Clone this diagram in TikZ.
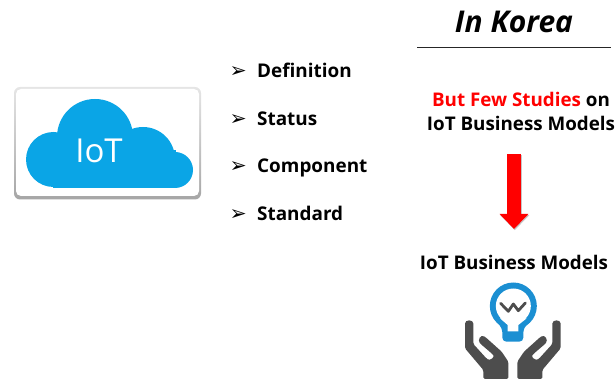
\documentclass[tikz,border=0pt]{standalone}
\usepackage{fontspec}
\setmainfont{Open Sans}
\newfontfamily\dingfont{DejaVu Sans}
\usetikzlibrary{positioning,arrows.meta}
\definecolor{cloudblue}{HTML}{0AA5E6}
\definecolor{bulbblue}{HTML}{1B8FD2}
\definecolor{handgray}{HTML}{4D4D4D}
\tikzset{
  itemtext/.style={inner sep=0pt,font=\fontsize{18.9}{23}\selectfont\bfseries},
  bulletmark/.style={inner sep=0pt,font=\fontsize{20.5}{24}\dingfont},
  bigtext/.style={inner sep=0pt,align=center,font=\fontsize{18.8}{24}\selectfont\bfseries},
  hand/.pic={
    \fill[handgray,rounded corners=1.5pt] (75,165) .. controls (75,148) and (100,148) .. (100,165)
      -- (100,222) -- (140,266) .. controls (150,272) and (165,262) .. (157,252) -- (122,222)
      .. controls (112,210) and (122,192) .. (137,202) -- (185,245) -- (205,275) -- (205,327)
      -- (130,327) -- (130,300) -- (75,235) -- cycle;
  }
}
\begin{document}
\begin{tikzpicture}[x=1pt,y=-1pt]
  \useasboundingbox (0,0) rectangle (616,379);

  % card with the cloud
  \shade[top color=gray!20,bottom color=gray!70,rounded corners=6pt] (14,87) rectangle (201,199.5);
  \node[minimum width=183pt,minimum height=107pt,rounded corners=5pt,fill=white,inner sep=0pt] (card) at (107.5,142.5) {};
  \begin{scope}
    \clip (14,87) rectangle (201,187.5);
    \foreach \cx/\cy/\rad in {53.5/159.5/27.5, 95/137/38, 143/159/32, 175/170/18}
      \fill[cloudblue] (\cx,\cy) circle (\rad pt);
    \fill[cloudblue] (53,150) rectangle (176,188);
  \end{scope}
  \node[inner sep=0pt,text=white,font=\fontsize{33}{40}\selectfont] (iot) at (99,151) {IoT};

  % list
  \node[itemtext,anchor=base west] (definition) at (257,78) {Definition};
  \node[itemtext,anchor=base west] (status) at (257,126) {Status};
  \node[itemtext,anchor=base west] (component) at (257,173) {Component};
  \node[itemtext,anchor=base west] (standard) at (257,221) {Standard};
  \node[bulletmark,base left=10pt of definition.base west] (bulletA) {➢};
  \node[bulletmark,base left=10pt of status.base west] (bulletB) {➢};
  \node[bulletmark,base left=10pt of component.base west] (bulletC) {➢};
  \node[bulletmark,base left=10pt of standard.base west] (bulletD) {➢};

  % right column
  \node[inner sep=0pt,font=\fontsize{30}{34}\selectfont\bfseries\itshape,anchor=base] (korea) at (514,33) {In Korea};
  \coordinate (ruleA) at (417,48);
  \coordinate (ruleB) at (611,48);
  \draw[line width=1pt,black!85] (ruleA) -- (ruleB);
  \node[bigtext,anchor=base] (studies) at (521,131) {\textcolor{red}{But Few Studies} on\\IoT Business Models};
  \node[bigtext,anchor=base] (models) at (514,270) {IoT Business Models};
  \coordinate (arrowtop) at (514,154);
  \coordinate (arrowend) at (514,229);
  \draw[-{Triangle[length=15pt,width=28pt]},gray!45,line width=14.5pt,transform canvas={xshift=0.8pt,yshift=-1.2pt}] (arrowtop) -- (arrowend);
  \draw[-{Triangle[length=15pt,width=28pt]},red,line width=14.5pt] (arrowtop) -- (arrowend);

  % bulb and hands
  \begin{scope}[shift={(440,270)},x=0.3333pt,y=-0.3333pt]
    \fill[bulbblue] (220,108) circle (23.5pt);
    \fill[bulbblue,rounded corners=4pt] (165,150) -- (187,175) -- (187,215) -- (250,215) -- (250,175) -- (275,150) -- cycle;
    \fill[white] (220,108) circle (17.5pt);
    \fill[white] (180,145) -- (203,165) -- (203,184) -- (235,184) -- (235,165) -- (260,145) -- cycle;
    \draw[handgray,line width=2.8pt,line join=round,line cap=round] (182,100) -- (205,124) -- (220,102) -- (235,122) -- (256,99);
    \pic {hand};
  \end{scope}
  \begin{scope}[shift={(440,270)},x=-0.3333pt,y=-0.3333pt,xshift=145.67pt]
    \pic {hand};
  \end{scope}
\end{tikzpicture}
\end{document}
